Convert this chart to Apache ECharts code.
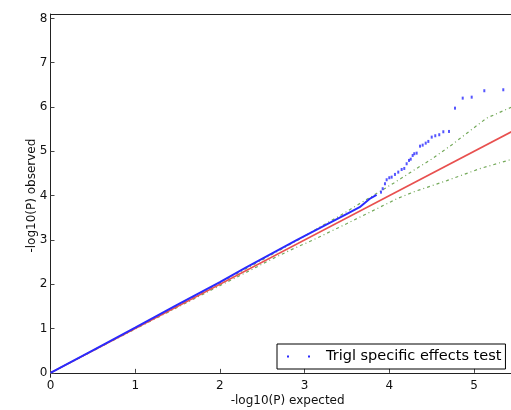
<!DOCTYPE html>
<html><head><meta charset="utf-8">
<script src="https://cdn.jsdelivr.net/npm/echarts@6/dist/echarts.min.js"></script>
<style>html,body{margin:0;padding:0;background:#fff}#c{width:511px;height:410px}</style>
</head><body><div id="c"></div>
<script>
const xTicks = [0, 1, 2, 3, 4, 5];
const yTicks = [0, 1, 2, 3, 4, 5, 6, 7, 8];
const xName = '-log10(P) expected';
const yName = '-log10(P) observed';
const legendLabel = 'Trigl specific effects test';

// dense part of observed points
const denseX = [0, 0.5, 1.0, 1.5, 2.0, 2.3, 2.6, 2.9, 3.2, 3.5, 3.65, 3.77, 3.85];
const denseY = [0, 0.51, 1.02, 1.54, 2.05, 2.37, 2.68, 2.99, 3.29, 3.59, 3.74, 3.93, 4.02];
// sparse tail of observed points
const tailX = [3.902, 3.922, 3.949, 3.969, 4.0, 4.028, 4.067, 4.106, 4.146, 4.177, 4.205, 4.233, 4.253, 4.276, 4.295, 4.323, 4.363, 4.394, 4.430, 4.461, 4.501, 4.543, 4.590, 4.638, 4.705, 4.776, 4.867, 4.973, 5.122, 5.346];
const tailY = [4.079, 4.156, 4.269, 4.359, 4.404, 4.418, 4.479, 4.531, 4.591, 4.614, 4.720, 4.795, 4.824, 4.907, 4.946, 4.959, 5.117, 5.140, 5.185, 5.224, 5.321, 5.352, 5.375, 5.442, 5.449, 5.975, 6.201, 6.223, 6.368, 6.390];
// confidence bands
const upX = [0, 1, 2, 2.5, 2.95, 3.18, 3.42, 3.65, 3.85, 4.05, 4.32, 4.48, 4.74, 4.95, 5.15, 5.41, 5.5];
const upY = [0, 1.01, 2.03, 2.55, 3.03, 3.29, 3.55, 3.82, 4.05, 4.28, 4.61, 4.80, 5.15, 5.46, 5.75, 5.97, 6.04];
const loX = [0, 1, 2, 2.355, 2.553, 2.83, 3.10, 3.50, 3.89, 4.09, 4.28, 4.68, 5.07, 5.41, 5.5];
const loY = [0, 0.99, 1.97, 2.31, 2.51, 2.77, 3.0, 3.37, 3.74, 3.93, 4.08, 4.34, 4.61, 4.80, 4.85];
// expected line
const refX = [0, 5.6];
const refY = [0, 5.6];

const zip = (a, b) => a.map((v, i) => [v, b[i]]);
const font = 'DejaVu Sans';
const chart = echarts.init(document.getElementById('c'), null, {renderer: 'canvas'});
chart.setOption({
  animation: false,
  backgroundColor: '#fff',
  grid: {left: 50.5, top: 14, width: 474.3, height: 363.3, show: false, outerBoundsMode: 'none', containLabel: false},
  legend: {
    left: 277, top: 344,
    orient: 'horizontal',
    padding: [4, 4, 4, 10],
    borderColor: '#000', borderWidth: 1,
    itemWidth: 23, itemHeight: 2,
    selectedMode: false,
    data: [{name: legendLabel, icon: 'path://M0,0h2v2h-2zM21,0h2v2h-2z', itemStyle: {color: '#2a2aff'}}],
    textStyle: {fontSize: 14.5, fontFamily: font, color: '#000', lineHeight: 17, padding: [0, 0, 0, 11]}
  },
  xAxis: [{
    type: 'value', min: 0, max: 5.6, position: 'bottom',
    axisLine: {show: true, lineStyle: {color: '#222', width: 1}},
    axisTick: {show: true, inside: true, length: 4, customValues: xTicks, lineStyle: {color: '#444'}},
    axisLabel: {customValues: xTicks, margin: 3, fontSize: 12, fontFamily: font, color: '#111'},
    splitLine: {show: false},
    name: xName, nameLocation: 'middle', nameGap: 18, nameMoveOverlap: false,
    nameTextStyle: {fontSize: 12, fontFamily: font, color: '#111'}
  }, {
    type: 'value', min: 0, max: 5.6, position: 'top',
    axisLine: {show: true, onZero: false, lineStyle: {color: '#222', width: 1}},
    axisTick: {show: false},
    axisLabel: {show: false},
    splitLine: {show: false}
  }],
  yAxis: {
    type: 'value', min: -0.1, max: 8.1,
    axisLine: {show: true, onZero: false, lineStyle: {color: '#222', width: 1}},
    axisTick: {show: true, inside: true, length: 4, customValues: yTicks, lineStyle: {color: '#444'}},
    axisLabel: {customValues: yTicks, margin: 3, fontSize: 12, fontFamily: font, color: '#111'},
    splitLine: {show: false},
    name: yName, nameLocation: 'middle', nameGap: 13, nameRotate: 90, nameMoveOverlap: false,
    nameTextStyle: {fontSize: 12, fontFamily: font, color: '#111'}
  },
  series: [
    {type: 'line', name: 'upper', data: zip(upX, upY), symbol: 'none', z: 2,
     lineStyle: {color: '#74a95a', width: 1.2, type: [3, 3, 1, 3]}},
    {type: 'line', name: 'lower', data: zip(loX, loY), symbol: 'none', z: 2,
     lineStyle: {color: '#74a95a', width: 1.2, type: [3, 3, 1, 3]}},
    {type: 'line', name: 'expected', data: zip(refX, refY), symbol: 'none', z: 3,
     lineStyle: {color: '#e8504f', width: 1.6}},
    {type: 'line', name: legendLabel, data: zip(denseX, denseY), symbol: 'none', z: 4,
     lineStyle: {color: '#2a2aff', width: 2}},
    {type: 'scatter', name: legendLabel, data: zip(tailX, tailY), symbol: 'rect', symbolSize: [2, 3], z: 4,
     itemStyle: {color: '#2a2aff'}}
  ]
});
</script>
</body></html>
